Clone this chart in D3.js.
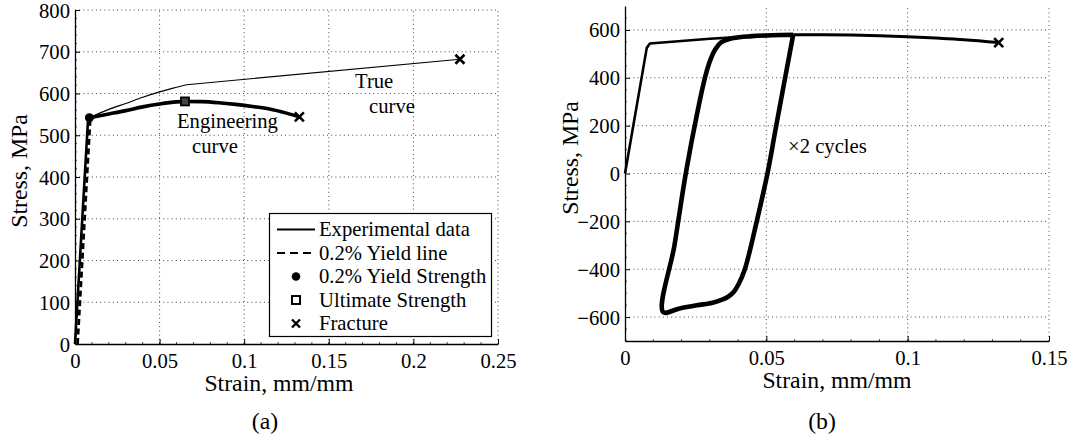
<!DOCTYPE html>
<html>
<head>
<meta charset="utf-8">
<script src="https://cdn.jsdelivr.net/npm/d3@7"></script>
<style>
  html, body { margin: 0; padding: 0; background: #fff; }
  svg { display: block; }
</style>
</head>
<body>
<svg id="chart" width="1073" height="445"></svg>
<script>
// ---------- DATA ----------
// Panel (a)
const elasticStrain = [0, 0.0076, 0.0085];
const elasticStress = [0, 530, 542];
const yieldLineStrain = [0.0015, 0.0090];
const yieldLineStress = [0, 540];
const engStrain = [0.0085, 0.02, 0.03, 0.04, 0.05, 0.06, 0.065, 0.075, 0.085, 0.095, 0.105, 0.115, 0.125, 0.1326];
const engStress = [542, 551, 559, 568, 575, 580, 581, 580.5, 578, 574, 569, 563, 553, 544];
const trueStrain = [0.0085, 0.02, 0.03, 0.04, 0.05, 0.058, 0.066];
const trueStress = [542, 562, 576, 591, 604, 613, 621];
const trueNeckStrain = [0.066, 0.2275];
const trueNeckStress = [621, 682];
const yieldPointA = [0.0085, 542];
const ultimatePointA = [0.065, 581];
const fracturePointsA = [[0.1326, 544], [0.2275, 682]];
const xTicksA = [0, 0.05, 0.1, 0.15, 0.2, 0.25];
const yTicksA = [0, 100, 200, 300, 400, 500, 600, 700, 800];
const legendLabels = ["Experimental data", "0.2% Yield line", "0.2% Yield Strength", "Ultimate Strength", "Fracture"];

// Panel (b)
const monoStrain = [0, 0.0077, 0.0088, 0.02, 0.03, 0.04, 0.05, 0.0595];
const monoStress = [0, 525, 543, 554, 563, 570, 576, 580];
const loopStrain = [0.0595, 0.0535, 0.0504, 0.0466, 0.0424, 0.0402, 0.0386, 0.0366, 0.0348, 0.0310, 0.0254, 0.0190, 0.0135,
                    0.0175, 0.0215, 0.0255, 0.0285, 0.0303, 0.0320, 0.0340, 0.0383, 0.0450, 0.0520, 0.0595];
const loopStress = [580, 200, 0, -200, -400, -462, -493, -514, -525, -540, -551, -565, -579,
                    -300, 0, 250, 410, 478, 520, 548, 566, 574, 578, 580];
const postStrain = [0.0595, 0.07, 0.08, 0.09, 0.10, 0.11, 0.12, 0.1322];
const postStress = [580, 580, 579, 576, 572, 566, 559, 547];
const fracturePointB = [0.1322, 547];
const xTicksB = [0, 0.05, 0.1, 0.15];
const yTicksB = [-600, -400, -200, 0, 200, 400, 600];

// ---------- FONT ----------
const FONT = '"Liberation Serif", "Times New Roman", Tinos, "Nimbus Roman", "Nimbus Roman No9 L", Times, "Noto Serif", "Noto Serif CJK SC", "Noto Serif CJK JP", FreeSerif, "DejaVu Serif", serif';
const svg = d3.select("#chart").attr("font-family", FONT);
const probe = svg.append("text").attr("font-size", 20).attr("font-family", FONT).text("Experimental data");
const measured = probe.node().getComputedTextLength();
probe.remove();
const fscale = measured > 0 ? Math.min(1.05, 151 / measured) : 1;
const fs = n => n * fscale;

// ---------- DRAWING ----------
const fmtX = d => d === 0 ? "0" : String(+d.toFixed(2));
const fmtY = d => (d < 0 ? "\u2212" + Math.abs(d) : String(d));
const zip = (a, b) => a.map((v, i) => [v, b[i]]);
const crossPath = s => `M${-s},${-s}L${s},${s}M${-s},${s}L${s},${-s}`;

function txt(g, x, y, s, size, anchor) {
  return g.append("text").attr("x", x).attr("y", y).attr("font-size", fs(size))
    .attr("font-family", FONT).attr("fill", "#000").attr("text-anchor", anchor || "start").text(s);
}

function drawPanel(g, x, y, xTicks, yTicks, opts) {
  const [x0, x1] = x.range();
  const [y0, y1] = y.range();
  const grid = g.append("g").attr("stroke", "#333").attr("stroke-width", 0.9).attr("stroke-dasharray", "1,3.2");
  yTicks.filter(t => y(t) !== y0).forEach(t => {
    grid.append("line").attr("x1", x0).attr("x2", x1).attr("y1", y(t)).attr("y2", y(t));
  });
  xTicks.filter(t => x(t) !== x0).forEach(t => {
    grid.append("line").attr("x1", x(t)).attr("x2", x(t)).attr("y1", y0).attr("y2", y1);
  });
  const minor = g.append("g").attr("stroke", "#000").attr("stroke-width", 0.7);
  opts.xMinor.forEach(t => minor.append("line").attr("x1", x(t)).attr("x2", x(t)).attr("y1", y0).attr("y2", y0 - 2));
  opts.yMinor.forEach(t => minor.append("line").attr("x1", x0).attr("x2", x0 + 2).attr("y1", y(t)).attr("y2", y(t)));
  const ax = g.append("g").attr("transform", `translate(0,${y0})`)
    .call(d3.axisBottom(x).tickValues(xTicks).tickFormat(fmtX).tickSize(-5).tickSizeOuter(0).tickPadding(8));
  const ay = g.append("g").attr("transform", `translate(${x0},0)`)
    .call(d3.axisLeft(y).tickValues(yTicks).tickFormat(fmtY).tickSize(-5).tickSizeOuter(0).tickPadding(5));
  [ax, ay].forEach(a => {
    a.attr("font-family", FONT);
    a.selectAll("text").attr("font-size", fs(20)).attr("fill", "#000").attr("font-family", FONT);
    a.select(".domain").attr("stroke", "#000").attr("stroke-width", 1.3);
    a.selectAll(".tick line").attr("stroke", "#000").attr("stroke-width", 1);
  });
  ax.selectAll("text").attr("dy", "0.78em");
  ay.selectAll("text").attr("dy", "0.34em");
}

// ----- Panel (a) -----
const xA = d3.scaleLinear().domain([0, 0.25]).range([75, 498]);
const yA = d3.scaleLinear().domain([0, 800]).range([344, 10]);
const gA = svg.append("g");
drawPanel(gA, xA, yA, xTicksA, yTicksA, {
  xMinor: d3.range(0.01, 0.25, 0.01),
  yMinor: d3.range(20, 800, 20)
});
const lineA = d3.line().x(d => xA(d[0])).y(d => yA(d[1]));
const smoothA = d3.line().x(d => xA(d[0])).y(d => yA(d[1])).curve(d3.curveMonotoneX);

gA.append("path").attr("d", lineA(zip(yieldLineStrain, yieldLineStress)))
  .attr("fill", "none").attr("stroke", "#000").attr("stroke-width", 2.8).attr("stroke-dasharray", "6,3.5");
gA.append("path").attr("d", lineA(zip(elasticStrain, elasticStress)))
  .attr("fill", "none").attr("stroke", "#000").attr("stroke-width", 2.6);
gA.append("path").attr("d", smoothA(zip(trueStrain, trueStress)) + lineA(zip(trueNeckStrain, trueNeckStress)))
  .attr("fill", "none").attr("stroke", "#000").attr("stroke-width", 1.2);
gA.append("path").attr("d", smoothA(zip(engStrain, engStress)))
  .attr("fill", "none").attr("stroke", "#000").attr("stroke-width", 3.6).attr("stroke-linecap", "round");
gA.append("circle").attr("cx", xA(yieldPointA[0])).attr("cy", yA(yieldPointA[1])).attr("r", 4.5).attr("fill", "#000");
gA.append("rect").attr("x", xA(ultimatePointA[0]) - 4).attr("y", yA(ultimatePointA[1]) - 4)
  .attr("width", 8).attr("height", 8).attr("fill", "#444").attr("stroke", "#000").attr("stroke-width", 1.8);
fracturePointsA.forEach(p => {
  gA.append("path").attr("d", crossPath(4.5)).attr("transform", `translate(${xA(p[0])},${yA(p[1])})`)
    .attr("stroke", "#000").attr("stroke-width", 2.6).attr("fill", "none");
});
txt(gA, 177, 128, "Engineering", 20);
txt(gA, 192, 153, "curve", 20);
txt(gA, 355, 88, "True", 20);
txt(gA, 369, 113, "curve", 20);
txt(gA, 279, 391, "Strain, mm/mm", 23, "middle");
txt(gA, 0, 0, "Stress, MPa", 23, "middle").attr("transform", "translate(27,171) rotate(-90)");
txt(gA, 265, 429, "(a)", 23, "middle");

// legend
const lg = gA.append("g");
lg.append("rect").attr("x", 269.5).attr("y", 213.5).attr("width", 222).attr("height", 123)
  .attr("fill", "#fff").attr("stroke", "#000").attr("stroke-width", 1.2);
legendLabels.forEach((lab, i) => {
  const cy = 229.5 + i * 23.5;
  const sx = 296;
  if (i === 0) {
    lg.append("line").attr("x1", 277).attr("x2", 315).attr("y1", cy).attr("y2", cy).attr("stroke", "#000").attr("stroke-width", 2.2);
  } else if (i === 1) {
    lg.append("line").attr("x1", 277).attr("x2", 315).attr("y1", cy).attr("y2", cy).attr("stroke", "#000")
      .attr("stroke-width", 2.2).attr("stroke-dasharray", "8,5");
  } else if (i === 2) {
    lg.append("circle").attr("cx", sx).attr("cy", cy).attr("r", 4.3).attr("fill", "#000");
  } else if (i === 3) {
    lg.append("rect").attr("x", sx - 4).attr("y", cy - 4).attr("width", 8).attr("height", 8)
      .attr("fill", "#fff").attr("stroke", "#000").attr("stroke-width", 2);
  } else {
    lg.append("path").attr("d", crossPath(4)).attr("transform", `translate(${sx},${cy})`)
      .attr("stroke", "#000").attr("stroke-width", 2.4);
  }
  txt(lg, 319, cy, lab, 20).attr("dy", "0.33em");
});

// ----- Panel (b) -----
const xB = d3.scaleLinear().domain([0, 0.15]).range([625, 1049]);
const yB = d3.scaleLinear().domain([-700, 700]).range([341, 6]);
const gB = svg.append("g");
drawPanel(gB, xB, yB, xTicksB, yTicksB, {
  xMinor: d3.range(0.01, 0.15, 0.01),
  yMinor: d3.range(-700, 700, 50).filter(v => v % 200 !== 0)
});
const lineB = d3.line().x(d => xB(d[0])).y(d => yB(d[1]));
gB.append("path").attr("d", lineB(zip(monoStrain, monoStress)))
  .attr("fill", "none").attr("stroke", "#000").attr("stroke-width", 2.6).attr("stroke-linejoin", "round");
gB.append("path").attr("d", d3.line().x(d => xB(d[0])).y(d => yB(d[1])).curve(d3.curveCatmullRom.alpha(0.5))(zip(loopStrain, loopStress)))
  .attr("fill", "none").attr("stroke", "#000").attr("stroke-width", 4.6).attr("stroke-linejoin", "round");
gB.append("path").attr("d", d3.line().x(d => xB(d[0])).y(d => yB(d[1])).curve(d3.curveMonotoneX)(zip(postStrain, postStress)))
  .attr("fill", "none").attr("stroke", "#000").attr("stroke-width", 3);
gB.append("path").attr("d", crossPath(4.5)).attr("transform", `translate(${xB(fracturePointB[0])},${yB(fracturePointB[1])})`)
  .attr("stroke", "#000").attr("stroke-width", 2.6);
txt(gB, 788, 153, "\u00d72 cycles", 20);
txt(gB, 837, 388, "Strain, mm/mm", 23, "middle");
txt(gB, 0, 0, "Stress, MPa", 23, "middle").attr("transform", "translate(578,158) rotate(-90)");
txt(gB, 822, 429, "(b)", 23, "middle");
</script>
</body>
</html>
